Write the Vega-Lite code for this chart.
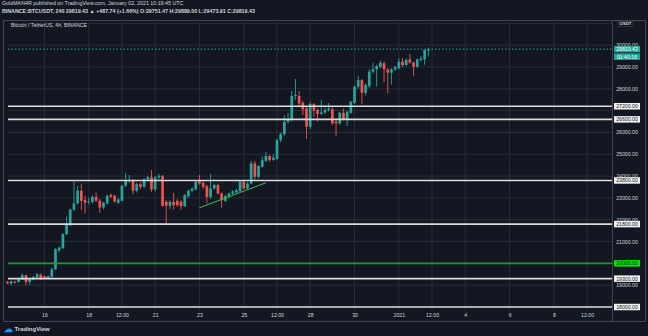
{
  "$schema": "https://vega.github.io/schema/vega-lite/v6.json",
  "width": 642,
  "height": 301,
  "autosize": "none",
  "padding": {"left": 3, "top": 20, "right": 3, "bottom": 15},
  "background": "#131722",
  "config": {
    "view": {"stroke": "#434651", "strokeWidth": 1},
    "font": "Liberation Sans"
  },
  "title": {
    "text": "GoldMAN4R published on TradingView.com, January 02, 2021 10:19:45 UTC",
    "subtitle": "BINANCE:BTCUSDT, 240  29819.43 ▲ +487.74 (+1.66%)  O:29751.47 H:29889.00 L:29473.91 C:29819.43",
    "anchor": "start",
    "frame": "group",
    "offset": 5,
    "dx": -1,
    "font": "Liberation Sans",
    "fontSize": 5.3,
    "fontWeight": "normal",
    "color": "#d1d4dc",
    "subtitleFont": "Liberation Sans",
    "subtitleFontSize": 5.3,
    "subtitleFontWeight": "bold",
    "subtitleColor": "#d1d4dc",
    "subtitlePadding": 3
  },
  "datasets": {
    "candles": [
      {"t":"2020-12-14T08:00:00Z","o":19150,"h":19190,"l":19060,"c":19080},
      {"t":"2020-12-14T12:00:00Z","o":19080,"h":19200,"l":19000,"c":19180},
      {"t":"2020-12-14T16:00:00Z","o":19160,"h":19210,"l":19080,"c":19110},
      {"t":"2020-12-14T20:00:00Z","o":19150,"h":19300,"l":19120,"c":19275},
      {"t":"2020-12-15T00:00:00Z","o":19260,"h":19530,"l":19240,"c":19460},
      {"t":"2020-12-15T04:00:00Z","o":19460,"h":19480,"l":19000,"c":19150},
      {"t":"2020-12-15T08:00:00Z","o":19150,"h":19330,"l":19020,"c":19300},
      {"t":"2020-12-15T12:00:00Z","o":19260,"h":19400,"l":19220,"c":19380},
      {"t":"2020-12-15T16:00:00Z","o":19360,"h":19560,"l":19330,"c":19500},
      {"t":"2020-12-15T20:00:00Z","o":19490,"h":19530,"l":19250,"c":19310},
      {"t":"2020-12-16T00:00:00Z","o":19410,"h":19440,"l":19280,"c":19310},
      {"t":"2020-12-16T04:00:00Z","o":19310,"h":19430,"l":19280,"c":19410},
      {"t":"2020-12-16T08:00:00Z","o":19390,"h":19800,"l":19350,"c":19730},
      {"t":"2020-12-16T12:00:00Z","o":19730,"h":20700,"l":19700,"c":20650},
      {"t":"2020-12-16T16:00:00Z","o":20600,"h":20780,"l":20500,"c":20720},
      {"t":"2020-12-16T20:00:00Z","o":20700,"h":21400,"l":20650,"c":21340},
      {"t":"2020-12-17T00:00:00Z","o":21340,"h":22150,"l":21300,"c":21780},
      {"t":"2020-12-17T04:00:00Z","o":21750,"h":22500,"l":21700,"c":22470},
      {"t":"2020-12-17T08:00:00Z","o":22470,"h":23740,"l":22400,"c":22750},
      {"t":"2020-12-17T12:00:00Z","o":22750,"h":23550,"l":22700,"c":23330},
      {"t":"2020-12-17T16:00:00Z","o":23330,"h":23650,"l":22440,"c":22870},
      {"t":"2020-12-17T20:00:00Z","o":22900,"h":23100,"l":22290,"c":22780},
      {"t":"2020-12-18T00:00:00Z","o":22800,"h":23000,"l":22700,"c":22840},
      {"t":"2020-12-18T04:00:00Z","o":22810,"h":23120,"l":22750,"c":23050},
      {"t":"2020-12-18T08:00:00Z","o":23050,"h":23250,"l":22800,"c":22870},
      {"t":"2020-12-18T12:00:00Z","o":22870,"h":22950,"l":22320,"c":22560},
      {"t":"2020-12-18T16:00:00Z","o":22560,"h":22820,"l":22480,"c":22780},
      {"t":"2020-12-18T20:00:00Z","o":22750,"h":23150,"l":22700,"c":23100},
      {"t":"2020-12-19T00:00:00Z","o":23140,"h":23200,"l":22980,"c":23050},
      {"t":"2020-12-19T04:00:00Z","o":23100,"h":23150,"l":22780,"c":22840},
      {"t":"2020-12-19T08:00:00Z","o":22780,"h":23000,"l":22720,"c":22930},
      {"t":"2020-12-19T12:00:00Z","o":22870,"h":23600,"l":22850,"c":23560},
      {"t":"2020-12-19T16:00:00Z","o":23560,"h":24150,"l":23500,"c":23770},
      {"t":"2020-12-19T20:00:00Z","o":23770,"h":24050,"l":23700,"c":23820},
      {"t":"2020-12-20T00:00:00Z","o":23820,"h":23880,"l":23170,"c":23330},
      {"t":"2020-12-20T04:00:00Z","o":23330,"h":23700,"l":23250,"c":23630},
      {"t":"2020-12-20T08:00:00Z","o":23630,"h":23700,"l":23400,"c":23510},
      {"t":"2020-12-20T12:00:00Z","o":23510,"h":23900,"l":23450,"c":23850},
      {"t":"2020-12-20T16:00:00Z","o":23850,"h":24000,"l":23780,"c":23940},
      {"t":"2020-12-20T20:00:00Z","o":23940,"h":24280,"l":23280,"c":23390},
      {"t":"2020-12-21T00:00:00Z","o":23390,"h":24000,"l":23300,"c":23940},
      {"t":"2020-12-21T04:00:00Z","o":23940,"h":24100,"l":23850,"c":24000},
      {"t":"2020-12-21T08:00:00Z","o":24000,"h":24050,"l":22600,"c":22640},
      {"t":"2020-12-21T12:00:00Z","o":22820,"h":22900,"l":21830,"c":22640},
      {"t":"2020-12-21T16:00:00Z","o":22640,"h":22900,"l":22500,"c":22820},
      {"t":"2020-12-21T20:00:00Z","o":22820,"h":23230,"l":22470,"c":22670},
      {"t":"2020-12-22T00:00:00Z","o":22870,"h":22950,"l":22600,"c":22670},
      {"t":"2020-12-22T04:00:00Z","o":22820,"h":22900,"l":22450,"c":22620},
      {"t":"2020-12-22T08:00:00Z","o":22620,"h":23180,"l":22580,"c":23130},
      {"t":"2020-12-22T12:00:00Z","o":23080,"h":23380,"l":23000,"c":23330},
      {"t":"2020-12-22T16:00:00Z","o":23330,"h":23480,"l":23250,"c":23430},
      {"t":"2020-12-22T20:00:00Z","o":23390,"h":23760,"l":23350,"c":23740},
      {"t":"2020-12-23T00:00:00Z","o":23770,"h":24050,"l":23600,"c":23660},
      {"t":"2020-12-23T04:00:00Z","o":23690,"h":23750,"l":23400,"c":23510},
      {"t":"2020-12-23T08:00:00Z","o":23540,"h":23600,"l":22750,"c":23050},
      {"t":"2020-12-23T12:00:00Z","o":23050,"h":24090,"l":22950,"c":23430},
      {"t":"2020-12-23T16:00:00Z","o":23430,"h":23650,"l":23380,"c":23590},
      {"t":"2020-12-23T20:00:00Z","o":23590,"h":23650,"l":23150,"c":23200},
      {"t":"2020-12-24T00:00:00Z","o":23200,"h":23260,"l":22560,"c":22900},
      {"t":"2020-12-24T04:00:00Z","o":22870,"h":23150,"l":22800,"c":23080},
      {"t":"2020-12-24T08:00:00Z","o":23080,"h":23250,"l":23000,"c":23200},
      {"t":"2020-12-24T12:00:00Z","o":23200,"h":23350,"l":23150,"c":23300},
      {"t":"2020-12-24T16:00:00Z","o":23250,"h":23420,"l":23200,"c":23350},
      {"t":"2020-12-24T20:00:00Z","o":23300,"h":23780,"l":23250,"c":23740},
      {"t":"2020-12-25T00:00:00Z","o":23740,"h":23800,"l":23380,"c":23430},
      {"t":"2020-12-25T04:00:00Z","o":23430,"h":23720,"l":23380,"c":23660},
      {"t":"2020-12-25T08:00:00Z","o":23660,"h":24700,"l":23620,"c":24580},
      {"t":"2020-12-25T12:00:00Z","o":24580,"h":24700,"l":23800,"c":23970},
      {"t":"2020-12-25T16:00:00Z","o":23970,"h":24500,"l":23900,"c":24460},
      {"t":"2020-12-25T20:00:00Z","o":24430,"h":24900,"l":24380,"c":24730},
      {"t":"2020-12-26T00:00:00Z","o":24700,"h":25100,"l":24650,"c":24920},
      {"t":"2020-12-26T04:00:00Z","o":24920,"h":24960,"l":24650,"c":24730},
      {"t":"2020-12-26T08:00:00Z","o":24740,"h":25000,"l":24700,"c":24840},
      {"t":"2020-12-26T12:00:00Z","o":24780,"h":25700,"l":24750,"c":25650},
      {"t":"2020-12-26T16:00:00Z","o":25650,"h":26000,"l":25550,"c":25920},
      {"t":"2020-12-26T20:00:00Z","o":25920,"h":26800,"l":25850,"c":26490},
      {"t":"2020-12-27T00:00:00Z","o":26490,"h":26900,"l":26400,"c":26600},
      {"t":"2020-12-27T04:00:00Z","o":26570,"h":27900,"l":26500,"c":27670},
      {"t":"2020-12-27T08:00:00Z","o":27670,"h":28450,"l":27500,"c":27720},
      {"t":"2020-12-27T12:00:00Z","o":27670,"h":27900,"l":27200,"c":27330},
      {"t":"2020-12-27T16:00:00Z","o":27360,"h":27450,"l":26800,"c":27060},
      {"t":"2020-12-27T20:00:00Z","o":27100,"h":27200,"l":25700,"c":26260},
      {"t":"2020-12-28T00:00:00Z","o":26260,"h":27400,"l":26150,"c":27300},
      {"t":"2020-12-28T04:00:00Z","o":27300,"h":27350,"l":26700,"c":27000},
      {"t":"2020-12-28T08:00:00Z","o":27030,"h":27100,"l":26500,"c":26850},
      {"t":"2020-12-28T12:00:00Z","o":26850,"h":27500,"l":26800,"c":26920},
      {"t":"2020-12-28T16:00:00Z","o":26920,"h":27150,"l":26850,"c":27030},
      {"t":"2020-12-28T20:00:00Z","o":27030,"h":27350,"l":26950,"c":27100},
      {"t":"2020-12-29T00:00:00Z","o":27070,"h":27150,"l":26350,"c":26420},
      {"t":"2020-12-29T04:00:00Z","o":26500,"h":26550,"l":25850,"c":26420},
      {"t":"2020-12-29T08:00:00Z","o":26420,"h":26950,"l":26350,"c":26900},
      {"t":"2020-12-29T12:00:00Z","o":26900,"h":27100,"l":26550,"c":26600},
      {"t":"2020-12-29T16:00:00Z","o":26600,"h":27000,"l":26300,"c":26950},
      {"t":"2020-12-29T20:00:00Z","o":26900,"h":27450,"l":26850,"c":27410},
      {"t":"2020-12-30T00:00:00Z","o":27360,"h":28150,"l":27300,"c":28100},
      {"t":"2020-12-30T04:00:00Z","o":28100,"h":28590,"l":28000,"c":28400},
      {"t":"2020-12-30T08:00:00Z","o":28400,"h":28450,"l":27300,"c":27820},
      {"t":"2020-12-30T12:00:00Z","o":27820,"h":28250,"l":27700,"c":28170},
      {"t":"2020-12-30T16:00:00Z","o":28130,"h":28900,"l":28050,"c":28790},
      {"t":"2020-12-30T20:00:00Z","o":28790,"h":29200,"l":28700,"c":28900},
      {"t":"2020-12-31T00:00:00Z","o":28900,"h":29100,"l":28100,"c":29040},
      {"t":"2020-12-31T04:00:00Z","o":29010,"h":29300,"l":28950,"c":29200},
      {"t":"2020-12-31T08:00:00Z","o":29170,"h":29250,"l":28300,"c":28890},
      {"t":"2020-12-31T12:00:00Z","o":28890,"h":28950,"l":27800,"c":28740},
      {"t":"2020-12-31T16:00:00Z","o":28740,"h":28950,"l":28200,"c":28890},
      {"t":"2020-12-31T20:00:00Z","o":28890,"h":29050,"l":28800,"c":28990},
      {"t":"2021-01-01T00:00:00Z","o":28940,"h":29400,"l":28900,"c":29240},
      {"t":"2021-01-01T04:00:00Z","o":29240,"h":29400,"l":29000,"c":29090},
      {"t":"2021-01-01T08:00:00Z","o":29090,"h":29400,"l":29050,"c":29320},
      {"t":"2021-01-01T12:00:00Z","o":29350,"h":29600,"l":29150,"c":29200},
      {"t":"2021-01-01T16:00:00Z","o":29200,"h":29250,"l":28600,"c":29010},
      {"t":"2021-01-01T20:00:00Z","o":29010,"h":29400,"l":28950,"c":29350},
      {"t":"2021-01-02T00:00:00Z","o":29320,"h":29500,"l":29250,"c":29380},
      {"t":"2021-01-02T04:00:00Z","o":29350,"h":29800,"l":29100,"c":29780},
      {"t":"2021-01-02T08:00:00Z","o":29751.47,"h":29889,"l":29473.91,"c":29819.43}
    ],
    "hgrid": [
      {"p": 18000}, {"p": 19000}, {"p": 20000}, {"p": 21000}, {"p": 22000}, {"p": 23000}, {"p": 24000},
      {"p": 25000}, {"p": 26000}, {"p": 27000}, {"p": 28000}, {"p": 29000}, {"p": 30000}, {"p": 31000}
    ],
    "plabels": [
      {"p": 19000}, {"p": 21000}, {"p": 22000}, {"p": 23000}, {"p": 24000},
      {"p": 25000}, {"p": 26000}, {"p": 28000}, {"p": 29000}, {"p": 30000}
    ],
    "vgrid": [
      {"t": 1608076800000}, {"t": 1608249600000}, {"t": 1608379200000}, {"t": 1608508800000},
      {"t": 1608681600000}, {"t": 1608854400000}, {"t": 1608984000000}, {"t": 1609113600000},
      {"t": 1609286400000}, {"t": 1609459200000}, {"t": 1609588800000}, {"t": 1609718400000},
      {"t": 1609891200000}, {"t": 1610064000000}, {"t": 1610193600000}
    ],
    "levels": [
      {"p": 27200}, {"p": 26600}, {"p": 23800}, {"p": 21800}, {"p": 20000}, {"p": 19300}, {"p": 18000}
    ],
    "trend": [
      {"t": "2020-12-23T00:00:00Z", "p": 22546},
      {"t": "2020-12-26T00:00:00Z", "p": 23693}
    ],
    "last": [
      {"p": 29819.43, "label": "29819.43", "timer": "01:40:16"}
    ]
  },
  "layer": [
    {
      "data": {"name": "hgrid"},
      "mark": {"type": "rule", "color": "#2a2e39", "strokeWidth": 1},
      "encoding": {
        "y": {"field": "p", "type": "quantitative"},
        "x": {"datum": 1607934720000, "type": "temporal"},
        "x2": {"datum": 1610292480000}
      }
    },
    {
      "data": {"name": "vgrid"},
      "mark": {"type": "rule", "color": "#2a2e39", "strokeWidth": 1},
      "encoding": {
        "x": {"field": "t", "type": "temporal"},
        "y": {"datum": 17863, "type": "quantitative"},
        "y2": {"datum": 31154}
      }
    },
    {
      "data": {"name": "last"},
      "mark": {"type": "rule", "color": "#26a69a", "strokeWidth": 1, "strokeDash": [1.5, 2]},
      "encoding": {
        "y": {"field": "p", "type": "quantitative"},
        "x": {"datum": 1607934720000, "type": "temporal"},
        "x2": {"datum": 1610292480000}
      }
    },
    {
      "data": {"name": "candles"},
      "mark": {"type": "rule", "strokeWidth": 0.9},
      "encoding": {
        "x": {"field": "t", "type": "temporal"},
        "y": {"field": "l", "type": "quantitative"},
        "y2": {"field": "h"},
        "color": {"condition": {"test": "datum.c >= datum.o", "value": "#26a69a"}, "value": "#ef5350"}
      }
    },
    {
      "data": {"name": "candles"},
      "mark": {"type": "bar", "size": 2.7},
      "encoding": {
        "x": {
          "field": "t", "type": "temporal",
          "scale": {"type": "utc", "domain": [1607934720000, 1610400000000]},
          "axis": {
            "orient": "bottom", "offset": -11,
            "values": [1608076800000, 1608249600000, 1608379200000, 1608508800000, 1608681600000, 1608854400000, 1608984000000, 1609113600000, 1609286400000, 1609459200000, 1609588800000, 1609718400000, 1609891200000, 1610064000000, 1610193600000],
            "labelExpr": "utchours(datum.value) == 12 ? '12:00' : ((utcmonth(datum.value) == 0 && utcdate(datum.value) == 1) ? '2021' : '' + utcdate(datum.value))",
            "grid": false, "ticks": false, "tickSize": 0, "domain": false,
            "labelFont": "Liberation Sans", "labelFontSize": 5.2, "labelColor": "#d1d4dc",
            "labelPadding": 2, "labelFlush": false, "labelOverlap": false,
            "title": "TradingView", "titleFont": "Liberation Sans", "titleFontSize": 6, "titleFontWeight": "bold",
            "titleColor": "#d1d4dc", "titleAnchor": "start", "titleAlign": "left", "titleX": 11, "titleY": 18,
            "titleBaseline": "middle"
          }
        },
        "y": {
          "field": "o", "type": "quantitative",
          "scale": {"domain": [17359, 31154], "nice": false, "zero": false},
          "axis": {
            "orient": "right", "offset": -28,
            "labels": false, "grid": false, "ticks": false, "tickSize": 0, "domain": false,
            "title": "☁", "titleColor": "#2196f3", "titleFontSize": 9, "titleAngle": 0,
            "titleX": -609, "titleY": 308, "titleAlign": "center", "titleBaseline": "middle"
          }
        },
        "y2": {"field": "c"},
        "color": {"condition": {"test": "datum.c >= datum.o", "value": "#26a69a"}, "value": "#ef5350"}
      }
    },
    {
      "data": {"name": "levels"},
      "mark": {"type": "rule", "strokeWidth": 1.6},
      "encoding": {
        "y": {"field": "p", "type": "quantitative"},
        "x": {"datum": 1607934720000, "type": "temporal"},
        "x2": {"datum": 1610292480000},
        "color": {"condition": {"test": "datum.p == 20000", "value": "#1c9a28"}, "value": "#dcdcdc"}
      }
    },
    {
      "data": {"name": "trend"},
      "mark": {"type": "line", "color": "#3bb54a", "strokeWidth": 1.1},
      "encoding": {
        "x": {"field": "t", "type": "temporal"},
        "y": {"field": "p", "type": "quantitative"}
      }
    },
    {
      "data": {"values": [{}]},
      "mark": {"type": "rule", "color": "#434651", "strokeWidth": 1},
      "encoding": {
        "x": {"datum": 1610292480000, "type": "temporal"},
        "y": {"datum": 17359, "type": "quantitative"},
        "y2": {"datum": 31154}
      }
    },
    {
      "data": {"name": "plabels"},
      "mark": {"type": "text", "fontSize": 5.2, "font": "Liberation Sans", "color": "#d1d4dc", "align": "center", "baseline": "middle", "xOffset": -13},
      "encoding": {
        "y": {"field": "p", "type": "quantitative"},
        "x": {"datum": 1610400000000, "type": "temporal"},
        "text": {"field": "p", "type": "quantitative", "format": ".2f"}
      }
    },
    {
      "data": {"name": "levels"},
      "mark": {"type": "point", "shape": "M-1,-0.25H1V0.25H-1Z", "filled": true, "size": 676, "opacity": 1, "strokeWidth": 0, "xOffset": -13},
      "encoding": {
        "y": {"field": "p", "type": "quantitative"},
        "x": {"datum": 1610400000000, "type": "temporal"},
        "color": {"condition": {"test": "datum.p == 20000", "value": "#00e600"}, "value": "#f0f0f0"}
      }
    },
    {
      "data": {"name": "levels"},
      "mark": {"type": "text", "fontSize": 5.2, "font": "Liberation Sans", "color": "#131722", "align": "center", "baseline": "middle", "xOffset": -13},
      "encoding": {
        "y": {"field": "p", "type": "quantitative"},
        "x": {"datum": 1610400000000, "type": "temporal"},
        "text": {"field": "p", "type": "quantitative", "format": ".2f"}
      }
    },
    {
      "data": {"name": "last"},
      "mark": {"type": "point", "shape": "M-1,-0.25H1V0.25H-1Z", "filled": true, "size": 676, "opacity": 1, "strokeWidth": 0, "xOffset": -13, "color": "#26a69a"},
      "encoding": {
        "y": {"field": "p", "type": "quantitative"},
        "x": {"datum": 1610400000000, "type": "temporal"}
      }
    },
    {
      "data": {"name": "last"},
      "mark": {"type": "point", "shape": "M-1,-0.25H1V0.25H-1Z", "filled": true, "size": 676, "opacity": 1, "strokeWidth": 0, "xOffset": -13, "yOffset": 7.5, "color": "#26a69a"},
      "encoding": {
        "y": {"field": "p", "type": "quantitative"},
        "x": {"datum": 1610400000000, "type": "temporal"}
      }
    },
    {
      "data": {"name": "last"},
      "mark": {"type": "text", "fontSize": 5.2, "font": "Liberation Sans", "color": "#ffffff", "align": "center", "baseline": "middle", "xOffset": -13},
      "encoding": {
        "y": {"field": "p", "type": "quantitative"},
        "x": {"datum": 1610400000000, "type": "temporal"},
        "text": {"field": "label"}
      }
    },
    {
      "data": {"name": "last"},
      "mark": {"type": "text", "fontSize": 5.2, "font": "Liberation Sans", "color": "#ffffff", "align": "center", "baseline": "middle", "xOffset": -13, "yOffset": 7.5},
      "encoding": {
        "y": {"field": "p", "type": "quantitative"},
        "x": {"datum": 1610400000000, "type": "temporal"},
        "text": {"field": "timer"}
      }
    },
    {
      "data": {"values": [{}]},
      "mark": {"type": "point", "shape": "M-1,-0.34H1V0.34H-1Z", "filled": true, "size": 225, "opacity": 1, "color": "#131722", "stroke": "#434651", "strokeWidth": 0.7, "xOffset": -14.5},
      "encoding": {
        "y": {"datum": 30970, "type": "quantitative"},
        "x": {"datum": 1610400000000, "type": "temporal"}
      }
    },
    {
      "data": {"values": [{}]},
      "mark": {"type": "text", "fontSize": 4.4, "font": "Liberation Sans", "fontWeight": "bold", "color": "#d1d4dc", "align": "center", "baseline": "middle", "xOffset": -14.5},
      "encoding": {
        "y": {"datum": 30970, "type": "quantitative"},
        "x": {"datum": 1610400000000, "type": "temporal"},
        "text": {"value": "USDT"}
      }
    },
    {
      "data": {"values": [{}]},
      "mark": {"type": "text", "fontSize": 5.2, "font": "Liberation Sans", "color": "#d1d4dc", "align": "left", "baseline": "middle", "dx": 3, "dy": 5},
      "encoding": {
        "y": {"datum": 31154, "type": "quantitative"},
        "x": {"datum": 1607934720000, "type": "temporal"},
        "text": {"value": "Bitcoin / TetherUS, 4h, BINANCE"}
      }
    }
  ]
}
